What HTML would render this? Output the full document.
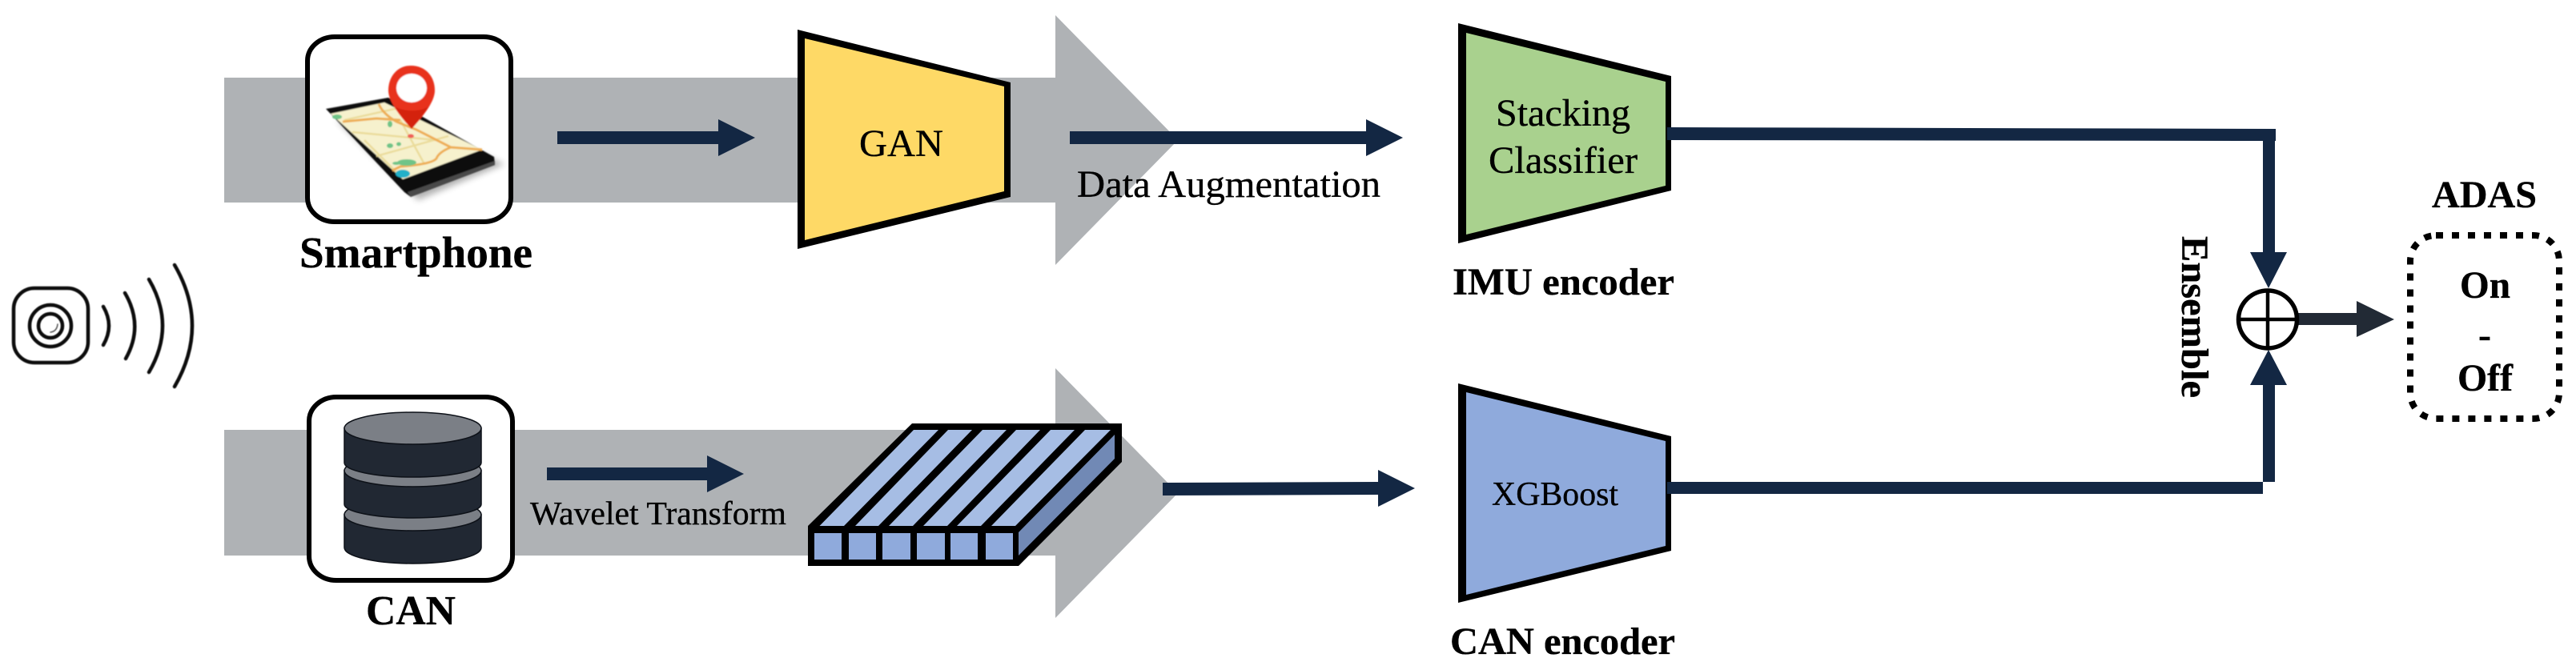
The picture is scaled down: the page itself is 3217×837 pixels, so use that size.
<!DOCTYPE html>
<html lang="en">
<head>
<meta charset="utf-8">
<title>ADAS ensemble pipeline diagram</title>
<style>
html,body{margin:0;padding:0;background:#fff;}
svg{display:block;}
text{font-family:"Liberation Serif",serif;fill:#000;stroke:#000;stroke-width:.35px;}
.b{font-weight:bold;}
</style>
</head>
<body>
<svg width="3217" height="837" viewBox="0 0 3217 837" xmlns="http://www.w3.org/2000/svg">
<defs>
<filter id="bl" x="-10%" y="-10%" width="120%" height="120%"><feGaussianBlur stdDeviation="0.7"/></filter>
<filter id="sh" x="-20%" y="-20%" width="140%" height="140%"><feGaussianBlur stdDeviation="4"/></filter>
<filter id="soft" x="-5%" y="-5%" width="110%" height="110%"><feGaussianBlur stdDeviation="0.5"/></filter>
</defs>
<rect width="3217" height="837" fill="#fff"/>

<!-- big grey arrows -->
<polygon points="280,97 1318,97 1318,19 1471,175 1318,331 1318,253 280,253" fill="#afb2b5"/>
<polygon points="280,537 1318,537 1318,460 1471,616 1318,772 1318,694 280,694" fill="#afb2b5"/>

<!-- signal icon -->
<g fill="none" stroke="#0a0a0a" stroke-width="4.5" stroke-linecap="round" filter="url(#soft)">
<rect x="17" y="360" width="93" height="93" rx="26" ry="26"/>
<circle cx="63" cy="407" r="26"/>
<circle cx="63" cy="407" r="15"/>
<path d="M72,405 Q71,414 63,415" stroke-width="1.5" stroke="#555"/>
<path d="M129,383 Q143,407 129,431"/>
<path d="M156,366 Q180,407 157,448"/>
<path d="M186,349 Q220,407 186,465"/>
<path d="M218,331 Q262,407 218,483"/>
</g>

<!-- smartphone box -->
<rect x="384" y="46" width="254" height="231" rx="34" ry="30" fill="#fff" stroke="#000" stroke-width="6"/>
<g>
<polygon points="420,150 522,250 630,205 600,192" fill="#555" opacity=".45" filter="url(#sh)"/>
<g filter="url(#bl)">
<polygon points="407,136 485,122 617,196 618,206 513,246 505,240" fill="#0d0d0d"/>
<polygon points="509,240 618,201 618,206 513,246" fill="#4a4a4a"/>
<polygon points="413,142 480,128 602,187 503,224" fill="#f6f1cd"/>
<g fill="none" stroke="#eadb9a" stroke-width="2.4">
<path d="M430,150 L520,130 M440,165 L545,175 M470,195 L560,170 M455,175 L495,215 M500,150 L530,205"/>
</g>
<g fill="none" stroke="#eeae55" stroke-width="3">
<path d="M473,130 Q478,142 495,152 L520,162 L563,184 L602,187"/>
<path d="M428,152 L470,148 L500,150"/>
<path d="M563,184 Q548,190 545,198 Q540,205 500,208 L490,213"/>
</g>
<g fill="#6fc488">
<ellipse cx="421" cy="146" rx="6" ry="3"/>
<ellipse cx="487" cy="155" rx="3" ry="4"/>
<ellipse cx="487" cy="182" rx="4" ry="3"/>
<ellipse cx="498" cy="180" rx="3" ry="2.5"/>
<ellipse cx="508" cy="203" rx="12" ry="4"/>
<ellipse cx="495" cy="204" rx="5" ry="2"/>
</g>
<ellipse cx="503" cy="217" rx="9" ry="5" fill="#22b0c8"/>
<ellipse cx="513" cy="170" rx="4" ry="2.5" fill="#f06058"/>
<path d="M513,82 C532,82 543,96 543,113 C543,128 526,148 514,161 C502,148 485,128 485,113 C485,96 496,82 513,82 Z" fill="#e8321e"/>
<path d="M493,133 C505,140 525,140 535,133 C528,144 520,153 514,161 C508,153 500,144 493,133 Z" fill="#d42308"/>
<ellipse cx="514" cy="110" rx="19" ry="18" fill="#fff"/>
</g>
</g>

<!-- CAN box -->
<rect x="386" y="496" width="254" height="229" rx="34" ry="30" fill="#fff" stroke="#000" stroke-width="6"/>
<g stroke="#0d1118" stroke-width="1.5">
<path d="M430,643 H601 V684 A85.5,20 0 0 1 430,684 Z" fill="#212833"/>
<ellipse cx="515.5" cy="643" rx="85.5" ry="20" fill="#7b7f86"/>
<path d="M430,588 H601 V630 A85.5,17 0 0 1 430,630 Z" fill="#212833"/>
<ellipse cx="515.5" cy="588" rx="85.5" ry="20" fill="#7b7f86"/>
<path d="M430,535 H601 V578 A85.5,18 0 0 1 430,578 Z" fill="#212833"/>
<ellipse cx="515.5" cy="535" rx="85.5" ry="20" fill="#7b7f86"/>
</g>

<!-- GAN -->
<polygon points="996,37 1262,103 1262,246 996,311" fill="#000"/>
<polygon points="1005,48 1254,108 1254,239 1005,300" fill="#fed966"/>
<text x="1073" y="195" font-size="48" textLength="105" lengthAdjust="spacingAndGlyphs">GAN</text>

<!-- wavelet block -->
<polygon points="1139,529 1401,529 1401,577 1272,707 1009,707 1009,657" fill="#000"/>
<polygon points="1392,543 1392,573 1272,694 1272,665" fill="#7189b5"/>
<g fill="#a6bde4">
<polygon points="1141,537 1172,537 1054,657 1023.5,657"/>
<polygon points="1184,537 1214,537 1097,657 1068,657"/>
<polygon points="1227,537 1257,537 1140,657 1110,657"/>
<polygon points="1269,537 1299,537 1183,657 1153,657"/>
<polygon points="1312,537 1342,537 1225,657 1195,657"/>
<polygon points="1355,537 1387,537 1268,657 1238,657"/>
</g>
<g fill="#8faadc">
<rect x="1017" y="666" width="34" height="33"/>
<rect x="1060" y="666" width="34" height="33"/>
<rect x="1102" y="666" width="35" height="33"/>
<rect x="1145" y="666" width="35" height="33"/>
<rect x="1187" y="666" width="34" height="33"/>
<rect x="1231" y="666" width="34" height="33"/>
</g>

<!-- IMU encoder -->
<polygon points="1821,29 2087,95 2087,238 1821,304" fill="#000"/>
<polygon points="1831,41 2080,102 2080,232 1831,293" fill="#a9d18e"/>
<text x="1868" y="157" font-size="48" textLength="168" lengthAdjust="spacingAndGlyphs">Stacking</text>
<text x="1859" y="216" font-size="48" textLength="186" lengthAdjust="spacingAndGlyphs">Classifier</text>

<!-- CAN encoder -->
<polygon points="1821,479 2087,545 2087,688 1821,753" fill="#000"/>
<polygon points="1831,490 2080,551 2080,682 1831,743" fill="#8faadc"/>
<text x="1863" y="631" font-size="42" textLength="158" lengthAdjust="spacingAndGlyphs">XGBoost</text>

<!-- arrows -->
<g fill="#132743">
<polygon points="696,164 897,164 897,149 943,172 897,195 897,180 696,180"/>
<polygon points="1336,164 1706,164 1706,149 1752,172 1706,195 1706,180 1336,180"/>
<polygon points="683,584 883,584 883,569 929,592 883,615 883,600 683,600"/>
<polygon points="1452,603 1721,602 1721,587 1767,610 1721,633 1721,618 1452,619"/>
<polygon points="2082,159 2842,161 2842,176 2841,176 2841,315 2856,315 2833,360 2810,315 2826,315 2826,176 2082,175"/>
<polygon points="2082,602 2841,602 2841,481 2856,481 2833,437 2810,481 2826,481 2826,617 2082,617"/>
</g>
<polygon points="2868,391 2943,391 2943,376 2990,399 2943,421 2943,406 2868,406" fill="#222a35"/>

<!-- sum node -->
<ellipse cx="2832" cy="399" rx="36.5" ry="36" fill="#fff" stroke="#000" stroke-width="5.5"/>
<path d="M2832,362 V436 M2795,399 H2869" stroke="#000" stroke-width="4.5" fill="none"/>

<!-- ADAS box -->
<rect x="3010" y="294" width="186" height="229" rx="32" ry="32" fill="#fff" stroke="#000" stroke-width="8" stroke-dasharray="9 11"/>

<!-- labels -->
<text class="b" x="374" y="334" font-size="55" textLength="291" lengthAdjust="spacingAndGlyphs">Smartphone</text>
<text class="b" x="457" y="780" font-size="52" textLength="112" lengthAdjust="spacingAndGlyphs">CAN</text>
<text x="1345" y="246" font-size="48" textLength="379" lengthAdjust="spacingAndGlyphs">Data Augmentation</text>
<text x="662" y="655" font-size="41" textLength="320" lengthAdjust="spacingAndGlyphs">Wavelet Transform</text>
<text class="b" x="1814" y="368" font-size="48" textLength="277" lengthAdjust="spacingAndGlyphs">IMU encoder</text>
<text class="b" x="1811" y="817" font-size="48" textLength="281" lengthAdjust="spacingAndGlyphs">CAN encoder</text>
<text class="b" transform="translate(2725,295) rotate(90)" font-size="48" textLength="202" lengthAdjust="spacingAndGlyphs">Ensemble</text>
<text class="b" x="3037" y="259" font-size="48" textLength="131" lengthAdjust="spacingAndGlyphs">ADAS</text>
<text class="b" x="3072" y="372" font-size="48" textLength="63" lengthAdjust="spacingAndGlyphs">On</text>
<text class="b" x="3095" y="434" font-size="48">-</text>
<text class="b" x="3069" y="488" font-size="48" textLength="69" lengthAdjust="spacingAndGlyphs">Off</text>
</svg>
</body>
</html>
